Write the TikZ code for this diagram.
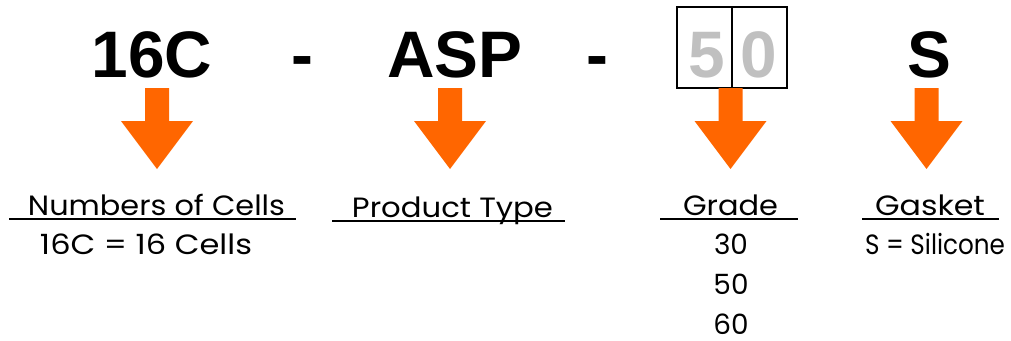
\documentclass[tikz,border=0pt]{standalone}
\usepackage{fontspec}
\usepackage{graphicx}
\setmainfont{Liberation Sans}
\newfontfamily\lblfont{Poppins}
\definecolor{arroworange}{HTML}{FF6600}
\definecolor{digitgray}{HTML}{C0C0C0}
\newcommand\fitw[2]{\resizebox{#1}{\height}{#2}}
\begin{document}
\begin{tikzpicture}[x=1bp,y=-1bp,
  header/.style={font=\fontsize{66}{70}\selectfont\bfseries, inner sep=0pt, anchor=base},
  lbltext/.style={font=\lblfont\fontsize{28}{34}\selectfont, inner sep=0pt, anchor=base, text depth=0pt},
  ulrule/.style={line width=2.5bp},
  cellbox/.style={draw, line width=2bp, minimum width=55bp, minimum height=81bp, inner sep=0pt},
  pics/downarrow/.style={code={\fill[arroworange] (-12,0) -- (12,0) -- (12,33) -- (36,33) -- (0,81) -- (-36,33) -- (-12,33) -- cycle;}}]
\useasboundingbox (0,0) rectangle (1011,340);
% header code
\node[header] (n16c) at (152,77) {16C};
\node[header] (dash1) at (302,77) {-};
\node[header] (asp) at (455,77) {ASP};
\node[header] (dash2) at (597,77) {-};
\node[cellbox] (cellA) at (704.5,47.5) {};
\node[cellbox] (cellB) at (759,47.5) {};
\node[header, text=digitgray] (d5) at (706.5,77) {5};
\node[header, text=digitgray] (d0) at (759,77) {0};
\node[header] (gs) at (929,77) {S};
% arrows
\pic at (157,88) {downarrow};
\pic at (450,88) {downarrow};
\pic at (730.5,88) {downarrow};
\pic at (926.5,88) {downarrow};
% labels
\node[lbltext] (cellsT) at (156.5,215) {\fitw{257bp}{Numbers of Cells}};
\coordinate (u1a) at (9,219); \coordinate (u1b) at (296,219);
\draw[ulrule] (u1a) -- (u1b);
\node[lbltext] (typeT) at (452.5,217) {\fitw{201bp}{Product Type}};
\coordinate (u2a) at (332,221); \coordinate (u2b) at (565,221);
\draw[ulrule] (u2a) -- (u2b);
\node[lbltext] (gradeT) at (730.5,215) {\fitw{95bp}{Grade}};
\coordinate (u3a) at (660,219); \coordinate (u3b) at (798,219);
\draw[ulrule] (u3a) -- (u3b);
\node[lbltext] (gasketT) at (930,215) {\fitw{110bp}{Gasket}};
\coordinate (u4a) at (862,219); \coordinate (u4b) at (999,219);
\draw[ulrule] (u4a) -- (u4b);
% values
\node[lbltext] (cellsV) at (146,254) {\fitw{212bp}{16C = 16 Cells}};
\node[lbltext] (g30) at (731,254) {30};
\node[lbltext] (g50) at (731,294) {50};
\node[lbltext] (g60) at (731,334) {60};
\node[lbltext] (gasketV) at (935,254) {\fitw{140bp}{S = Silicone}};
\end{tikzpicture}
\end{document}
